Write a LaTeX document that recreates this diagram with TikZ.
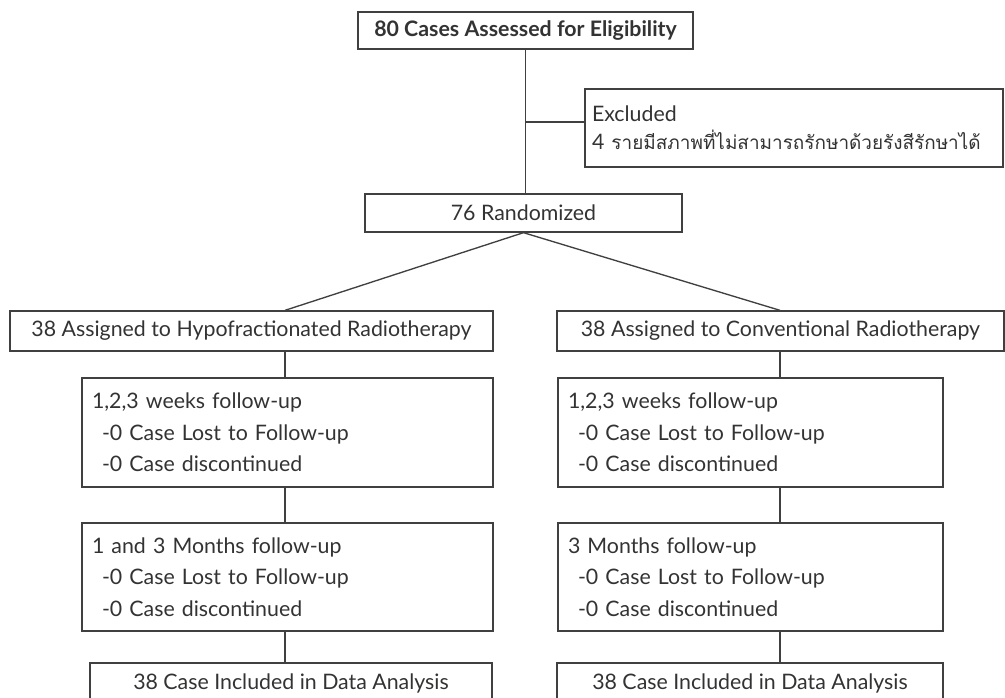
\documentclass[tikz,border=0pt]{standalone}
\usepackage{fontspec}
\setmainfont{Lato}
\newfontfamily\thaifont[Script=Thai]{Loma}
\definecolor{ln}{HTML}{404040}
\definecolor{tx}{HTML}{333333}
\begin{document}
\begin{tikzpicture}[x=0.75pt,y=-0.75pt,
  box/.style={draw=ln, line width=1pt, inner sep=0pt, text=tx,
              font=\fontsize{16}{23.6}\selectfont},
  lbox/.style={box, align=left},
  conn/.style={draw=ln, line width=1pt}]
\useasboundingbox (0,0) rectangle (1005,697);
\fill[white] (0,0) rectangle (1005,697);

\node[box, minimum width=251.25pt, minimum height=27.75pt,
      font=\bfseries\fontsize{16}{20}\selectfont] (top) at (525.5,30.5)
      {80 Cases Assessed for Eligibility};

\node[lbox, minimum width=313.5pt, minimum height=58.5pt, text width=303pt,
      font=\fontsize{16}{21}\selectfont] (excl) at (794,128)
      {Excluded\\4 {\thaifont\fontsize{14.2}{21}\selectfont รายมีสภาพที่ไม่สามารถรักษาด้วยรังสีรักษาได้}};

\node[box, minimum width=237.75pt, minimum height=28.5pt] (rand) at (523.5,213)
      {76 Randomized};

\node[box, minimum width=362.25pt, minimum height=30pt] (asgL) at (251.5,331)
      {38 Assigned to Hypofractionated Radiotherapy};
\node[box, minimum width=335.25pt, minimum height=30pt] (asgR) at (780.5,331)
      {38 Assigned to Conventional Radiotherapy};

\node[lbox, minimum width=308.25pt, minimum height=81.75pt, text width=293.25pt]
      (fuL1) at (287.5,432.5)
      {1,2,3 weeks follow-up\\\hspace*{7.5pt}-0 Case Lost to Follow-up\\\hspace*{7.5pt}-0 Case discontinued};
\node[lbox, minimum width=288.75pt, minimum height=81.75pt, text width=273.75pt]
      (fuR1) at (750.5,432.5)
      {1,2,3 weeks follow-up\\\hspace*{7.5pt}-0 Case Lost to Follow-up\\\hspace*{7.5pt}-0 Case discontinued};

\node[lbox, minimum width=308.25pt, minimum height=81pt, text width=293.25pt]
      (fuL2) at (287.5,577)
      {1 and 3 Months follow-up\\\hspace*{7.5pt}-0 Case Lost to Follow-up\\\hspace*{7.5pt}-0 Case discontinued};
\node[lbox, minimum width=288.75pt, minimum height=81pt, text width=273.75pt]
      (fuR2) at (750.5,577)
      {3 Months follow-up\\\hspace*{7.5pt}-0 Case Lost to Follow-up\\\hspace*{7.5pt}-0 Case discontinued};

\node[box, minimum width=301.5pt, minimum height=30pt] (resL) at (291,683)
      {38 Case Included in Data Analysis};
\node[box, minimum width=289.5pt, minimum height=30pt] (resR) at (750,683)
      {38 Case Included in Data Analysis};

\coordinate (cL) at (285,0);
\coordinate (cR) at (780,0);
\coordinate (br) at (525.5,122);

\draw[conn] (top.south) -- (top.south |- rand.north);
\draw[conn] (br) -- (br -| excl.west);
\draw[conn] (rand.south) -- (cL |- asgL.north);
\draw[conn] (rand.south) -- (cR |- asgR.north);
\draw[conn] (cL |- asgL.south) -- (cL |- fuL1.north);
\draw[conn] (cL |- fuL1.south) -- (cL |- fuL2.north);
\draw[conn] (cL |- fuL2.south) -- (cL |- resL.north);
\draw[conn] (cR |- asgR.south) -- (cR |- fuR1.north);
\draw[conn] (cR |- fuR1.south) -- (cR |- fuR2.north);
\draw[conn] (cR |- fuR2.south) -- (cR |- resR.north);
\end{tikzpicture}
\end{document}
